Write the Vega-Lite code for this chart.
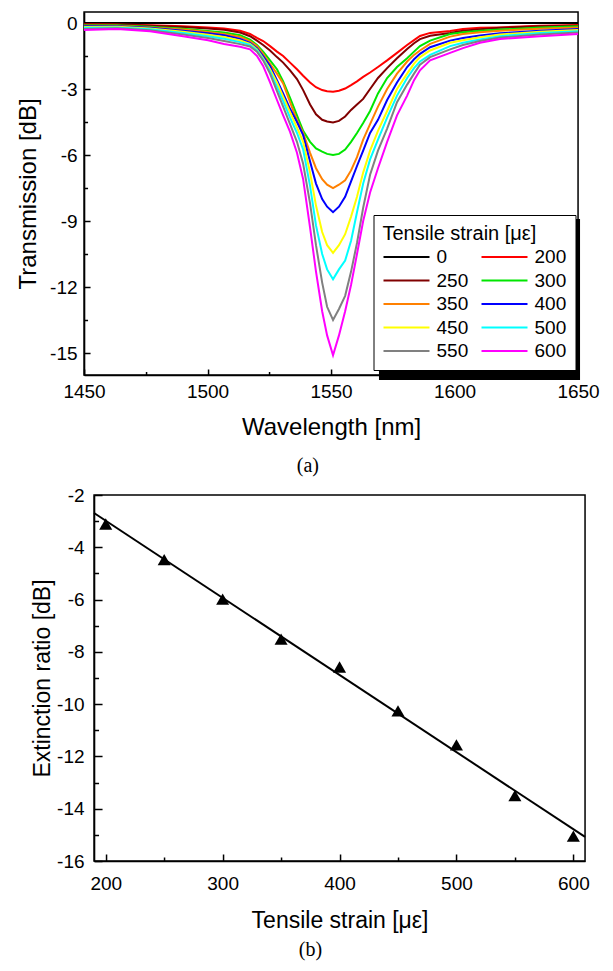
{
  "$schema": "https://vega.github.io/schema/vega-lite/v6.json",
  "padding": {"left": 15, "top": 11, "right": 5, "bottom": 5},
  "spacing": 8,
  "center": true,
  "background": "white",
  "config": {
    "view": {"stroke": "black", "strokeWidth": 1.5},
    "axis": {"domainColor": "black", "domainWidth": 1.5, "tickColor": "black", "tickWidth": 1.5, "labelColor": "black", "titleColor": "black", "labelFont": "Liberation Sans", "titleFont": "Liberation Sans", "titleFontWeight": "normal", "grid": false, "labelFlush": false, "labelOverlap": false, "labelExpr": "'' + datum.value"},
    "legend": {"labelFont": "Liberation Sans", "titleFont": "Liberation Sans", "titleFontWeight": "normal", "labelColor": "black", "titleColor": "black"}
  },
  "vconcat": [
    {
      "width": 494,
      "height": 363,
      "title": {"text": "(a)", "orient": "bottom", "font": "Liberation Serif", "fontSize": 20, "fontWeight": "normal", "frame": "bounds", "anchor": "middle", "offset": 17, "color": "black"},
      "resolve": {"axis": {"x": "independent", "y": "independent"}},
      "layer": [
        {
          "data": {"values": [{}]},
          "mark": {"type": "rect", "color": "black"},
          "encoding": {
            "x": {"datum": 1569.4, "type": "quantitative", "scale": {"domain": [1450, 1650], "nice": false}, "axis": {"orient": "bottom", "values": [1475, 1525, 1575, 1625], "tickSize": -3.5, "labels": false, "domain": false, "title": null}},
            "x2": {"datum": 1650.8},
            "y": {"datum": -8.91, "type": "quantitative", "scale": {"domain": [-16, 0.5], "nice": false}, "axis": {"orient": "left", "values": [-1.5, -4.5, -7.5, -10.5, -13.5], "tickSize": -3.5, "labels": false, "domain": false, "title": null}},
            "y2": {"datum": -16.23}
          }
        },
        {
          "data": {"name": "spectra", "values": [
            {"s":"0","w":1450,"t":0},{"s":"0","w":1650,"t":0},
            {"s":"200","w":1450,"t":-0.05},{"s":"200","w":1463.4,"t":-0.07},{"s":"200","w":1476.7,"t":-0.1},{"s":"200","w":1490.1,"t":-0.15},{"s":"200","w":1500.2,"t":-0.2},{"s":"200","w":1506.7,"t":-0.25},{"s":"200","w":1513.2,"t":-0.35},{"s":"200","w":1517.2,"t":-0.5},{"s":"200","w":1520,"t":-0.68},{"s":"200","w":1522.5,"t":-0.82},{"s":"200","w":1525.3,"t":-1.05},{"s":"200","w":1528.1,"t":-1.3},{"s":"200","w":1530.6,"t":-1.5},{"s":"200","w":1533.4,"t":-1.8},{"s":"200","w":1536.2,"t":-2.1},{"s":"200","w":1538.7,"t":-2.4},{"s":"200","w":1541.5,"t":-2.7},{"s":"200","w":1543.9,"t":-2.92},{"s":"200","w":1546.4,"t":-3.05},{"s":"200","w":1548.4,"t":-3.1},{"s":"200","w":1550.8,"t":-3.12},{"s":"200","w":1553.2,"t":-3.08},{"s":"200","w":1555.7,"t":-2.98},{"s":"200","w":1558.1,"t":-2.82},{"s":"200","w":1560.5,"t":-2.65},{"s":"200","w":1563,"t":-2.45},{"s":"200","w":1565.8,"t":-2.25},{"s":"200","w":1569,"t":-2.0},{"s":"200","w":1572.7,"t":-1.7},{"s":"200","w":1576.7,"t":-1.36},{"s":"200","w":1580.8,"t":-1.0},{"s":"200","w":1583.6,"t":-0.78},{"s":"200","w":1586,"t":-0.59},{"s":"200","w":1590.1,"t":-0.45},{"s":"200","w":1598.2,"t":-0.36},{"s":"200","w":1603.4,"t":-0.27},{"s":"200","w":1610.3,"t":-0.22},{"s":"200","w":1618.4,"t":-0.2},{"s":"200","w":1634.6,"t":-0.13},{"s":"200","w":1650,"t":-0.09},
            {"s":"250","w":1450,"t":-0.06},{"s":"250","w":1463.4,"t":-0.08},{"s":"250","w":1476.7,"t":-0.12},{"s":"250","w":1490.1,"t":-0.18},{"s":"250","w":1500.2,"t":-0.25},{"s":"250","w":1506.7,"t":-0.31},{"s":"250","w":1513.2,"t":-0.43},{"s":"250","w":1517.2,"t":-0.6},{"s":"250","w":1520,"t":-0.8},{"s":"250","w":1522.5,"t":-1.0},{"s":"250","w":1525.3,"t":-1.25},{"s":"250","w":1528.1,"t":-1.55},{"s":"250","w":1530.6,"t":-1.8},{"s":"250","w":1533.4,"t":-2.15},{"s":"250","w":1536.2,"t":-2.55},{"s":"250","w":1538.7,"t":-3.05},{"s":"250","w":1541.5,"t":-3.7},{"s":"250","w":1543.9,"t":-4.15},{"s":"250","w":1546.4,"t":-4.4},{"s":"250","w":1548.4,"t":-4.48},{"s":"250","w":1550.8,"t":-4.52},{"s":"250","w":1553.2,"t":-4.45},{"s":"250","w":1555.7,"t":-4.25},{"s":"250","w":1558.1,"t":-3.95},{"s":"250","w":1560.5,"t":-3.7},{"s":"250","w":1563,"t":-3.45},{"s":"250","w":1565.8,"t":-3.0},{"s":"250","w":1569,"t":-2.5},{"s":"250","w":1572.7,"t":-2.05},{"s":"250","w":1576.7,"t":-1.6},{"s":"250","w":1580.8,"t":-1.18},{"s":"250","w":1583.6,"t":-0.92},{"s":"250","w":1586,"t":-0.73},{"s":"250","w":1590.1,"t":-0.58},{"s":"250","w":1598.2,"t":-0.45},{"s":"250","w":1603.4,"t":-0.35},{"s":"250","w":1610.3,"t":-0.28},{"s":"250","w":1618.4,"t":-0.22},{"s":"250","w":1634.6,"t":-0.15},{"s":"250","w":1650,"t":-0.12},
            {"s":"300","w":1450,"t":-0.1},{"s":"300","w":1463.4,"t":-0.1},{"s":"300","w":1476.7,"t":-0.17},{"s":"300","w":1490.1,"t":-0.26},{"s":"300","w":1500.2,"t":-0.36},{"s":"300","w":1506.7,"t":-0.43},{"s":"300","w":1513.2,"t":-0.56},{"s":"300","w":1517.2,"t":-0.76},{"s":"300","w":1520,"t":-1.0},{"s":"300","w":1522.5,"t":-1.3},{"s":"300","w":1525.3,"t":-1.7},{"s":"300","w":1528.1,"t":-2.1},{"s":"300","w":1530.6,"t":-2.65},{"s":"300","w":1533.4,"t":-3.4},{"s":"300","w":1536.2,"t":-4.2},{"s":"300","w":1538.7,"t":-4.9},{"s":"300","w":1541.5,"t":-5.4},{"s":"300","w":1543.9,"t":-5.7},{"s":"300","w":1546.4,"t":-5.85},{"s":"300","w":1548.4,"t":-5.95},{"s":"300","w":1550.8,"t":-6.0},{"s":"300","w":1553.2,"t":-5.95},{"s":"300","w":1555.7,"t":-5.75},{"s":"300","w":1558.1,"t":-5.4},{"s":"300","w":1560.5,"t":-5.0},{"s":"300","w":1563,"t":-4.55},{"s":"300","w":1565.8,"t":-4.0},{"s":"300","w":1569,"t":-3.2},{"s":"300","w":1572.7,"t":-2.5},{"s":"300","w":1576.7,"t":-2.0},{"s":"300","w":1580.8,"t":-1.6},{"s":"300","w":1583.6,"t":-1.3},{"s":"300","w":1586,"t":-1.05},{"s":"300","w":1590.1,"t":-0.8},{"s":"300","w":1598.2,"t":-0.5},{"s":"300","w":1603.4,"t":-0.42},{"s":"300","w":1610.3,"t":-0.35},{"s":"300","w":1618.4,"t":-0.3},{"s":"300","w":1634.6,"t":-0.2},{"s":"300","w":1650,"t":-0.15},
            {"s":"350","w":1450,"t":-0.12},{"s":"350","w":1463.4,"t":-0.12},{"s":"350","w":1476.7,"t":-0.2},{"s":"350","w":1490.1,"t":-0.3},{"s":"350","w":1500.2,"t":-0.41},{"s":"350","w":1506.7,"t":-0.5},{"s":"350","w":1513.2,"t":-0.64},{"s":"350","w":1517.2,"t":-0.82},{"s":"350","w":1520,"t":-1.05},{"s":"350","w":1522.5,"t":-1.4},{"s":"350","w":1525.3,"t":-1.85},{"s":"350","w":1528.1,"t":-2.3},{"s":"350","w":1530.6,"t":-2.75},{"s":"350","w":1533.4,"t":-3.6},{"s":"350","w":1536.2,"t":-4.4},{"s":"350","w":1538.7,"t":-5.0},{"s":"350","w":1541.5,"t":-5.9},{"s":"350","w":1543.9,"t":-6.6},{"s":"350","w":1546.4,"t":-7.1},{"s":"350","w":1548.4,"t":-7.35},{"s":"350","w":1550.8,"t":-7.5},{"s":"350","w":1553.2,"t":-7.35},{"s":"350","w":1555.7,"t":-7.15},{"s":"350","w":1558.1,"t":-6.7},{"s":"350","w":1560.5,"t":-6.1},{"s":"350","w":1563,"t":-5.3},{"s":"350","w":1565.8,"t":-4.6},{"s":"350","w":1569,"t":-3.8},{"s":"350","w":1572.7,"t":-3.0},{"s":"350","w":1576.7,"t":-2.3},{"s":"350","w":1580.8,"t":-1.75},{"s":"350","w":1583.6,"t":-1.45},{"s":"350","w":1586,"t":-1.25},{"s":"350","w":1590.1,"t":-0.95},{"s":"350","w":1598.2,"t":-0.62},{"s":"350","w":1603.4,"t":-0.5},{"s":"350","w":1610.3,"t":-0.42},{"s":"350","w":1618.4,"t":-0.35},{"s":"350","w":1634.6,"t":-0.26},{"s":"350","w":1650,"t":-0.2},
            {"s":"400","w":1450,"t":-0.15},{"s":"400","w":1463.4,"t":-0.15},{"s":"400","w":1476.7,"t":-0.22},{"s":"400","w":1490.1,"t":-0.35},{"s":"400","w":1500.2,"t":-0.47},{"s":"400","w":1506.7,"t":-0.56},{"s":"400","w":1513.2,"t":-0.72},{"s":"400","w":1517.2,"t":-0.9},{"s":"400","w":1520,"t":-1.15},{"s":"400","w":1522.5,"t":-1.5},{"s":"400","w":1525.3,"t":-1.95},{"s":"400","w":1528.1,"t":-2.6},{"s":"400","w":1530.6,"t":-3.2},{"s":"400","w":1533.4,"t":-3.9},{"s":"400","w":1536.2,"t":-4.5},{"s":"400","w":1538.7,"t":-5.1},{"s":"400","w":1541.5,"t":-6.3},{"s":"400","w":1543.9,"t":-7.3},{"s":"400","w":1546.4,"t":-8.0},{"s":"400","w":1548.4,"t":-8.35},{"s":"400","w":1550.8,"t":-8.6},{"s":"400","w":1553.2,"t":-8.35},{"s":"400","w":1555.7,"t":-7.9},{"s":"400","w":1558.1,"t":-7.2},{"s":"400","w":1560.5,"t":-6.5},{"s":"400","w":1563,"t":-5.8},{"s":"400","w":1565.8,"t":-5.0},{"s":"400","w":1569,"t":-4.4},{"s":"400","w":1572.7,"t":-3.5},{"s":"400","w":1576.7,"t":-2.7},{"s":"400","w":1580.8,"t":-2.0},{"s":"400","w":1583.6,"t":-1.65},{"s":"400","w":1586,"t":-1.4},{"s":"400","w":1590.1,"t":-1.1},{"s":"400","w":1598.2,"t":-0.8},{"s":"400","w":1603.4,"t":-0.68},{"s":"400","w":1610.3,"t":-0.57},{"s":"400","w":1618.4,"t":-0.47},{"s":"400","w":1634.6,"t":-0.35},{"s":"400","w":1650,"t":-0.27},
            {"s":"450","w":1450,"t":-0.18},{"s":"450","w":1463.4,"t":-0.17},{"s":"450","w":1476.7,"t":-0.25},{"s":"450","w":1490.1,"t":-0.4},{"s":"450","w":1500.2,"t":-0.53},{"s":"450","w":1506.7,"t":-0.64},{"s":"450","w":1513.2,"t":-0.79},{"s":"450","w":1517.2,"t":-0.95},{"s":"450","w":1520,"t":-1.2},{"s":"450","w":1522.5,"t":-1.6},{"s":"450","w":1525.3,"t":-2.1},{"s":"450","w":1528.1,"t":-2.7},{"s":"450","w":1530.6,"t":-3.35},{"s":"450","w":1533.4,"t":-4.05},{"s":"450","w":1536.2,"t":-4.75},{"s":"450","w":1538.7,"t":-5.4},{"s":"450","w":1541.5,"t":-6.8},{"s":"450","w":1543.9,"t":-8.3},{"s":"450","w":1546.4,"t":-9.5},{"s":"450","w":1548.4,"t":-10.1},{"s":"450","w":1550.8,"t":-10.45},{"s":"450","w":1553.2,"t":-10.1},{"s":"450","w":1555.7,"t":-9.6},{"s":"450","w":1558.1,"t":-8.8},{"s":"450","w":1560.5,"t":-7.9},{"s":"450","w":1563,"t":-6.8},{"s":"450","w":1565.8,"t":-5.8},{"s":"450","w":1569,"t":-4.9},{"s":"450","w":1572.7,"t":-4.0},{"s":"450","w":1576.7,"t":-3.0},{"s":"450","w":1580.8,"t":-2.3},{"s":"450","w":1583.6,"t":-1.85},{"s":"450","w":1586,"t":-1.55},{"s":"450","w":1590.1,"t":-1.25},{"s":"450","w":1598.2,"t":-0.9},{"s":"450","w":1603.4,"t":-0.78},{"s":"450","w":1610.3,"t":-0.65},{"s":"450","w":1618.4,"t":-0.52},{"s":"450","w":1634.6,"t":-0.4},{"s":"450","w":1650,"t":-0.32},
            {"s":"500","w":1450,"t":-0.22},{"s":"500","w":1463.4,"t":-0.2},{"s":"500","w":1476.7,"t":-0.28},{"s":"500","w":1490.1,"t":-0.45},{"s":"500","w":1500.2,"t":-0.6},{"s":"500","w":1506.7,"t":-0.72},{"s":"500","w":1513.2,"t":-0.87},{"s":"500","w":1517.2,"t":-1.0},{"s":"500","w":1520,"t":-1.25},{"s":"500","w":1522.5,"t":-1.65},{"s":"500","w":1525.3,"t":-2.2},{"s":"500","w":1528.1,"t":-2.9},{"s":"500","w":1530.6,"t":-3.55},{"s":"500","w":1533.4,"t":-4.3},{"s":"500","w":1536.2,"t":-5.0},{"s":"500","w":1538.7,"t":-5.75},{"s":"500","w":1541.5,"t":-7.4},{"s":"500","w":1543.9,"t":-9.2},{"s":"500","w":1546.4,"t":-10.5},{"s":"500","w":1548.4,"t":-11.2},{"s":"500","w":1550.8,"t":-11.65},{"s":"500","w":1553.2,"t":-11.2},{"s":"500","w":1555.7,"t":-10.8},{"s":"500","w":1558.1,"t":-9.9},{"s":"500","w":1560.5,"t":-8.6},{"s":"500","w":1563,"t":-7.3},{"s":"500","w":1565.8,"t":-6.2},{"s":"500","w":1569,"t":-5.3},{"s":"500","w":1572.7,"t":-4.3},{"s":"500","w":1576.7,"t":-3.3},{"s":"500","w":1580.8,"t":-2.5},{"s":"500","w":1583.6,"t":-2.05},{"s":"500","w":1586,"t":-1.75},{"s":"500","w":1590.1,"t":-1.45},{"s":"500","w":1598.2,"t":-1.05},{"s":"500","w":1603.4,"t":-0.9},{"s":"500","w":1610.3,"t":-0.75},{"s":"500","w":1618.4,"t":-0.6},{"s":"500","w":1634.6,"t":-0.45},{"s":"500","w":1650,"t":-0.37},
            {"s":"550","w":1450,"t":-0.27},{"s":"550","w":1463.4,"t":-0.24},{"s":"550","w":1476.7,"t":-0.33},{"s":"550","w":1490.1,"t":-0.52},{"s":"550","w":1500.2,"t":-0.68},{"s":"550","w":1506.7,"t":-0.82},{"s":"550","w":1513.2,"t":-0.96},{"s":"550","w":1517.2,"t":-1.07},{"s":"550","w":1520,"t":-1.3},{"s":"550","w":1522.5,"t":-1.7},{"s":"550","w":1525.3,"t":-2.3},{"s":"550","w":1528.1,"t":-3.1},{"s":"550","w":1530.6,"t":-3.8},{"s":"550","w":1533.4,"t":-4.6},{"s":"550","w":1536.2,"t":-5.4},{"s":"550","w":1538.7,"t":-6.4},{"s":"550","w":1541.5,"t":-8.2},{"s":"550","w":1543.9,"t":-10.1},{"s":"550","w":1546.4,"t":-11.8},{"s":"550","w":1548.4,"t":-12.9},{"s":"550","w":1550.8,"t":-13.5},{"s":"550","w":1553.2,"t":-13.0},{"s":"550","w":1555.7,"t":-12.4},{"s":"550","w":1558.1,"t":-11.3},{"s":"550","w":1560.5,"t":-10.0},{"s":"550","w":1563,"t":-8.4},{"s":"550","w":1565.8,"t":-6.9},{"s":"550","w":1569,"t":-5.8},{"s":"550","w":1572.7,"t":-4.8},{"s":"550","w":1576.7,"t":-3.6},{"s":"550","w":1580.8,"t":-2.8},{"s":"550","w":1583.6,"t":-2.3},{"s":"550","w":1586,"t":-1.9},{"s":"550","w":1590.1,"t":-1.55},{"s":"550","w":1598.2,"t":-1.2},{"s":"550","w":1603.4,"t":-1.0},{"s":"550","w":1610.3,"t":-0.82},{"s":"550","w":1618.4,"t":-0.66},{"s":"550","w":1634.6,"t":-0.52},{"s":"550","w":1650,"t":-0.43},
            {"s":"600","w":1450,"t":-0.32},{"s":"600","w":1463.4,"t":-0.27},{"s":"600","w":1476.7,"t":-0.38},{"s":"600","w":1490.1,"t":-0.6},{"s":"600","w":1500.2,"t":-0.78},{"s":"600","w":1506.7,"t":-0.95},{"s":"600","w":1513.2,"t":-1.08},{"s":"600","w":1517.2,"t":-1.2},{"s":"600","w":1520,"t":-1.5},{"s":"600","w":1522.5,"t":-1.95},{"s":"600","w":1525.3,"t":-2.7},{"s":"600","w":1528.1,"t":-3.5},{"s":"600","w":1530.6,"t":-4.2},{"s":"600","w":1533.4,"t":-4.95},{"s":"600","w":1536.2,"t":-5.9},{"s":"600","w":1538.7,"t":-7.1},{"s":"600","w":1541.5,"t":-9.3},{"s":"600","w":1543.9,"t":-11.3},{"s":"600","w":1546.4,"t":-13.1},{"s":"600","w":1548.4,"t":-14.2},{"s":"600","w":1550.8,"t":-15.1},{"s":"600","w":1553.2,"t":-14.2},{"s":"600","w":1555.7,"t":-13.1},{"s":"600","w":1558.1,"t":-11.9},{"s":"600","w":1560.5,"t":-10.5},{"s":"600","w":1563,"t":-9.0},{"s":"600","w":1565.8,"t":-7.7},{"s":"600","w":1569,"t":-6.6},{"s":"600","w":1572.7,"t":-5.4},{"s":"600","w":1576.7,"t":-4.2},{"s":"600","w":1580.8,"t":-3.3},{"s":"600","w":1583.6,"t":-2.6},{"s":"600","w":1586,"t":-2.15},{"s":"600","w":1590.1,"t":-1.7},{"s":"600","w":1598.2,"t":-1.36},{"s":"600","w":1603.4,"t":-1.14},{"s":"600","w":1610.3,"t":-0.9},{"s":"600","w":1618.4,"t":-0.73},{"s":"600","w":1634.6,"t":-0.6},{"s":"600","w":1650,"t":-0.5}
          ]},
          "mark": {"type": "line", "strokeWidth": 2},
          "encoding": {
            "x": {"field": "w", "type": "quantitative", "scale": {"domain": [1450, 1650], "nice": false}, "axis": {"orient": "bottom", "values": [1450, 1500, 1550, 1600, 1650], "tickSize": -6, "labelPadding": 13, "labelFontSize": 19, "title": "Wavelength [nm]", "titleFontSize": 24, "titlePadding": 14}},
            "y": {"field": "t", "type": "quantitative", "scale": {"domain": [-16, 0.5], "nice": false}, "axis": {"orient": "left", "values": [0, -3, -6, -9, -12, -15], "tickSize": -6, "labelPadding": 13, "labelFontSize": 19, "title": "Transmission [dB]", "titleFontSize": 24, "titlePadding": 9}},
            "color": {
              "field": "s", "type": "nominal",
              "scale": {"domain": ["0", "250", "350", "450", "550", "200", "300", "400", "500", "600"], "range": ["#000000", "#800000", "#ff8000", "#ffff00", "#808080", "#ff0000", "#00e600", "#0000ff", "#00ffff", "#ff00ff"]},
              "legend": {"orient": "none", "legendX": 289.5, "legendY": 203, "columns": 2, "symbolType": "stroke", "symbolSize": 2116, "symbolStrokeWidth": 2, "clipHeight": 20, "rowPadding": 3.5, "columnPadding": 12, "labelOffset": 6, "labelFontSize": 19, "titleFontSize": 20, "title": "Tensile strain [με]", "fillColor": "white", "strokeColor": "black", "padding": 9, "titlePadding": 3, "cornerRadius": 0}
            }
          }
        }
      ]
    },
    {
      "width": 491,
      "height": 366,
      "title": {"text": "(b)", "orient": "bottom", "font": "Liberation Serif", "fontSize": 20, "fontWeight": "normal", "frame": "bounds", "anchor": "middle", "offset": 8, "color": "black"},
      "resolve": {"axis": {"x": "independent", "y": "independent"}},
      "layer": [
        {
          "data": {"values": [{}]},
          "mark": {"type": "point", "opacity": 0},
          "encoding": {
            "x": {"datum": 400, "type": "quantitative", "scale": {"domain": [190, 610], "nice": false}, "axis": {"orient": "bottom", "values": [250, 350, 450, 550], "tickSize": -4, "labels": false, "domain": false, "title": null}},
            "y": {"datum": -9, "type": "quantitative", "scale": {"domain": [-16, -2], "nice": false}, "axis": {"orient": "left", "values": [-15, -13, -11, -9, -7, -5, -3], "tickSize": -4.5, "labels": false, "domain": false, "title": null}}
          }
        },
        {
          "data": {"values": [{"x": 190, "y": -2.69}, {"x": 610, "y": -15.08}]},
          "mark": {"type": "line", "color": "black", "strokeWidth": 2},
          "encoding": {
            "x": {"field": "x", "type": "quantitative", "scale": {"domain": [190, 610], "nice": false}, "axis": {"orient": "bottom", "values": [200, 300, 400, 500, 600], "tickSize": -7, "labelPadding": 20, "labelFontSize": 19, "title": "Tensile strain [με]", "titleFontSize": 23, "titlePadding": 16}},
            "y": {"field": "y", "type": "quantitative", "scale": {"domain": [-16, -2], "nice": false}, "axis": {"orient": "left", "values": [-16, -14, -12, -10, -8, -6, -4, -2], "tickSize": -8, "labelPadding": 18, "labelFontSize": 19, "title": "Extinction ratio [dB]", "titleFontSize": 23, "titlePadding": 2}}
          }
        },
        {
          "data": {"values": [
            {"strain": 200, "er": -3.11}, {"strain": 250, "er": -4.47}, {"strain": 300, "er": -5.98}, {"strain": 350, "er": -7.51}, {"strain": 400, "er": -8.58},
            {"strain": 450, "er": -10.26}, {"strain": 500, "er": -11.56}, {"strain": 550, "er": -13.5}, {"strain": 600, "er": -15.05}
          ]},
          "mark": {"type": "point", "shape": "triangle-up", "filled": true, "color": "black", "size": 170, "opacity": 1},
          "encoding": {
            "x": {"field": "strain", "type": "quantitative", "axis": null},
            "y": {"field": "er", "type": "quantitative", "axis": null}
          }
        }
      ]
    }
  ]
}
